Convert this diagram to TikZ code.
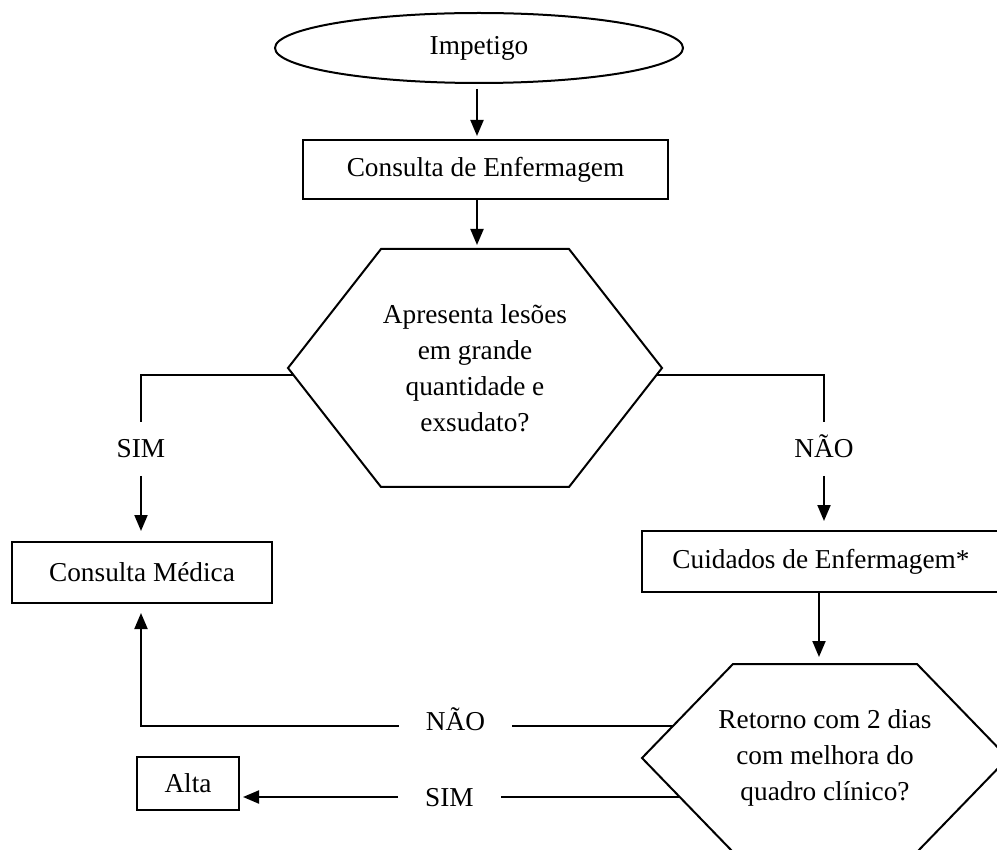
\documentclass[tikz,border=0pt]{standalone}
\usepackage{fontspec}
\setmainfont{Liberation Serif}
\usetikzlibrary{arrows.meta,calc,shapes.geometric}

\begin{document}
\begin{tikzpicture}[x=1pt,y=-1pt,
  line width=2pt,
  font=\fontsize{27.3}{36}\selectfont,
  box/.style={draw, rectangle, inner sep=0pt},
  qtext/.style={align=center, inner sep=0pt},
  arr/.style={-{Triangle[length=16pt,width=13pt]}},
  hlbl/.style={inner xsep=26pt, inner ysep=0pt, text height=18pt, text depth=0pt},
  vlbl/.style={inner xsep=0pt, inner ysep=17pt, text height=18pt, text depth=0pt},
]
% page area
\fill[white] (0,0) rectangle (997,850);
\useasboundingbox (0,0) rectangle (997,850);
\clip (0,0) rectangle (997,850);

% ---- nodes ----
\node[draw, ellipse, minimum width=408pt, minimum height=70pt, inner sep=0pt] (start) at (479,48) {Impetigo};
\node[box, minimum width=365pt, minimum height=59pt] (consenf) at (485.5,169.5) {Consulta de Enfermagem};
\node[qtext] (q1) at (475,368) {Apresenta lesões\\em grande\\quantidade e\\exsudato?};
\node[box, minimum width=260pt, minimum height=61pt] (consmed) at (142,572.5) {Consulta Médica};
\node[box, minimum width=358pt, minimum height=61pt] (cuid) at (821,561.5) {Cuidados de Enfermagem*};
\node[qtext] (q2) at (825,758) {Retorno com 2 dias\\com melhora do\\quadro clínico?};
\node[box, minimum width=102pt, minimum height=53pt] (alta) at (188,783.5) {Alta};

% branch labels
\node[vlbl] (sim1) at (141,449) {SIM};
\node[vlbl] (nao1) at (824,449) {NÃO};
\node[hlbl] (nao2) at (455.5,721) {NÃO};
\node[hlbl] (sim2) at (449.5,797) {SIM};

% ---- decision hexagons ----
\coordinate (q1nw) at ($(q1)+(-94,-119)$);
\coordinate (q1ne) at ($(q1)+(94,-119)$);
\coordinate (q1e)  at ($(q1)+(187,0)$);
\coordinate (q1se) at ($(q1)+(94,119)$);
\coordinate (q1sw) at ($(q1)+(-94,119)$);
\coordinate (q1w)  at ($(q1)+(-187,0)$);
\draw[line join=miter] (q1nw) -- (q1ne) -- (q1e) -- (q1se) -- (q1sw) -- (q1w) -- cycle;

\coordinate (q2nw) at ($(q2)+(-92,-94)$);
\coordinate (q2ne) at ($(q2)+(92,-94)$);
\coordinate (q2e)  at ($(q2)+(183,0)$);
\coordinate (q2se) at ($(q2)+(92,94)$);
\coordinate (q2sw) at ($(q2)+(-92,94)$);
\coordinate (q2w)  at ($(q2)+(-183,0)$);
\draw[line join=miter] (q2nw) -- (q2ne) -- (q2e) -- (q2se) -- (q2sw) -- (q2w) -- cycle;

% ---- connectors ----
\coordinate (axis) at (477,0);
\draw[arr, shorten <=5pt, shorten >=3pt] (axis |- start.south) -- (axis |- consenf.north);
\draw[arr, shorten >=4pt] (axis |- consenf.south) -- (axis |- q1nw);

% first decision: left (SIM) and right (NÃO)
\coordinate (q1l) at ($(q1w)!0.06!(q1sw)$);
\coordinate (q1r) at ($(q1e)!0.06!(q1se)$);
\draw (q1l) -| (sim1.north);
\draw[arr, shorten >=10pt] (sim1.south) -- (sim1.south |- consmed.north);
\draw (q1r) -| (nao1.north);
\draw[arr, shorten >=9pt] (nao1.south) -- (nao1.south |- cuid.north);

% care to second decision
\draw[arr, shorten >=7pt] (cuid.south -| 819,0) -- (819,0 |- q2nw);

% second decision: NÃO back to medical visit, SIM to discharge
\coordinate (q2a) at ($(q2w)!0.34!(q2nw)$);
\coordinate (q2b) at ($(q2w)!0.415!(q2sw)$);
\draw (q2a) -- (q2a -| nao2.east);
\draw[arr, shorten >=9pt] (q2a -| nao2.west) -| (sim1.south |- consmed.south);
\draw (q2b) -- (q2b -| sim2.east);
\draw[arr, shorten >=3pt] (q2b -| sim2.west) -- (q2b -| alta.east);
\end{tikzpicture}
\end{document}
